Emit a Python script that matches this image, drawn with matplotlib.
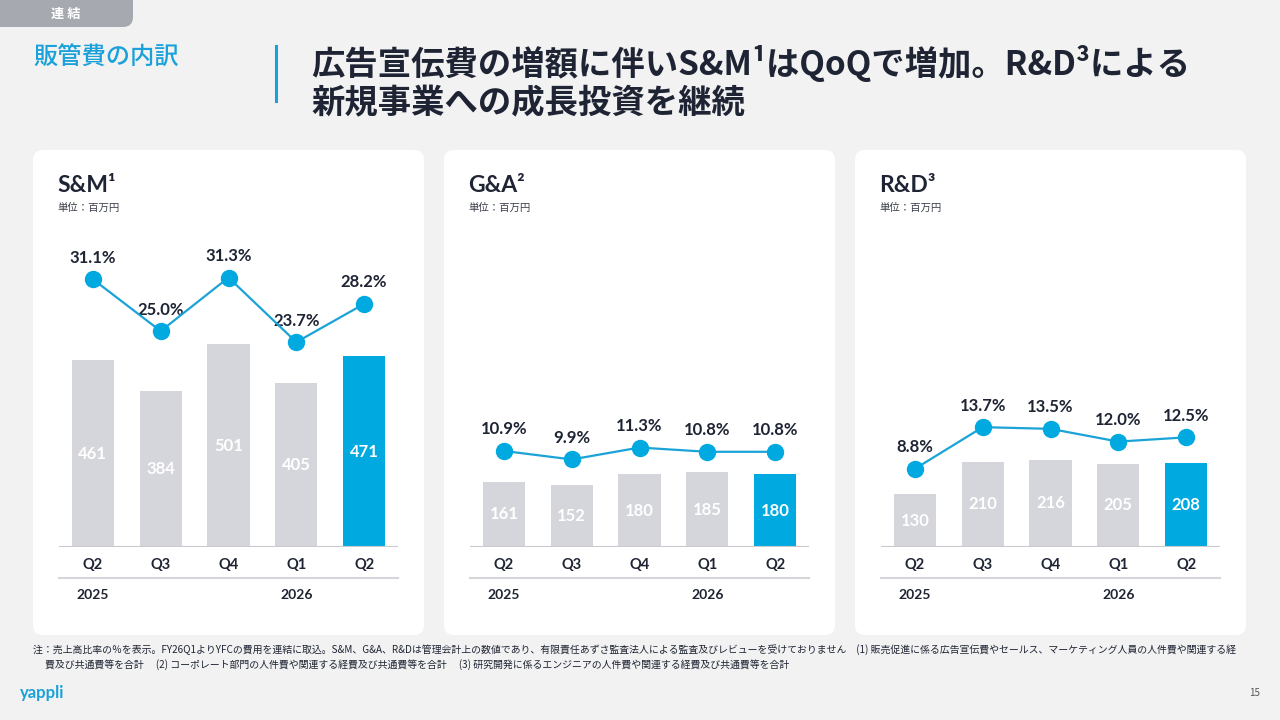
import numpy as np
import matplotlib
matplotlib.use("Agg")
import matplotlib.pyplot as plt
from matplotlib.patches import FancyBboxPatch
from matplotlib.lines import Line2D

plt.rcParams['font.family'] = ['Noto Sans CJK JP', 'DejaVu Sans']

# data
quarters = ['Q2', 'Q3', 'Q4', 'Q1', 'Q2']
year_labels = ['2025', '2026']
year_pos = [0, 3]

sm_values = [461, 384, 501, 405, 471]
ga_values = [161, 152, 180, 185, 180]
rd_values = [130, 210, 216, 205, 208]

sm_ratio = [31.1, 25.0, 31.3, 23.7, 28.2]
ga_ratio = [10.9, 9.9, 11.3, 10.8, 10.8]
rd_ratio = [8.8, 13.7, 13.5, 12.0, 12.5]

panel_titles = ['S&M¹', 'G&A²', 'R&D³']

# colours
BG = '#F2F2F2'
GREY = '#D5D6DB'
BLUE = '#00A9E0'
LINE = '#1BA3D8'
DARK = '#1E2433'

W, H = 1280, 720
fig = plt.figure(figsize=(12.8, 7.2), dpi=100, facecolor=BG)


def px(x, y):
    # pixel (from top-left) -> inches for dpi_scale_trans
    return x / 100.0, (H - y) / 100.0


def rbox(x0, y0, x1, y1, color, r=0.1):
    a, b = px(x0, y1)
    p = FancyBboxPatch((a, b), (x1 - x0) / 100.0, (y1 - y0) / 100.0,
                       boxstyle="round,pad=0,rounding_size=%s" % r,
                       transform=fig.dpi_scale_trans, facecolor=color,
                       edgecolor='none', zorder=0)
    fig.add_artist(p)


# header
rbox(-20, -20, 133, 27, '#A7A9B0', r=0.1)
fig.text(66 / W, 1 - 14 / H, '連 結', color='white', fontsize=9.5,
         fontweight='bold', ha='center', va='center')
fig.text(33 / W, 1 - 58 / H, '販管費の内訳', color='#1BA1D9', fontsize=17.5,
         fontweight='medium', ha='left', va='center')
fig.add_artist(Line2D([276 / W, 276 / W], [1 - 46 / H, 1 - 101 / H],
                      color='#1BA1D9', lw=2.2))
fig.text(311 / W, 1 - 63 / H, '広告宣伝費の増額に伴いS&M¹はQoQで増加。R&D³による',
         color=DARK, fontsize=24, fontweight='bold', ha='left', va='center')
fig.text(311 / W, 1 - 104 / H, '新規事業への成長投資を継続',
         color=DARK, fontsize=24, fontweight='bold', ha='left', va='center')

values_all = [sm_values, ga_values, rd_values]
ratio_all = [sm_ratio, ga_ratio, rd_ratio]

base_y = 547
top_y = 230
ax_h = base_y - top_y
bar_scale = 0.405
pct_scale = 8.5
x = np.arange(len(quarters))

for i in range(3):
    off = 411 * i
    rbox(33 + off, 150, 424 + off, 635, 'white', r=0.1)

    fig.text((57 + off) / W, 1 - 186 / H, panel_titles[i], color=DARK,
             fontsize=16.5, fontweight='bold', family=['Lato', 'DejaVu Sans'],
             ha='left', va='center')
    fig.text((57 + off) / W, 1 - 208 / H, '単位：百万円', color='#3A3F4B',
             fontsize=7.5, ha='left', va='center')

    ax = fig.add_axes([(59 + off) / W, (H - base_y) / H, 339 / W, ax_h / H])
    ax.set_facecolor('none')
    vals = values_all[i]
    colors = [GREY] * 4 + [BLUE]
    ax.bar(x, vals, width=0.62, color=colors, zorder=2)
    ax.set_xlim(-0.5, 4.5)
    ax.set_ylim(0, ax_h / bar_scale)
    for s in ax.spines.values():
        s.set_visible(False)
    ax.axhline(0, color='#C9CACE', lw=1.5, zorder=3)
    ax.set_yticks([])
    ax.set_xticks(x)
    ax.set_xticklabels(quarters, fontsize=10.5, fontweight='bold', color=DARK,
                       family=['Lato', 'DejaVu Sans'])
    ax.tick_params(axis='x', length=0, pad=8)
    for xi, v in zip(x, vals):
        ax.text(xi, v / 2.0, str(v), color='white', fontsize=12,
                fontweight='bold', family=['Lato', 'DejaVu Sans'],
                ha='center', va='center', zorder=4)
    ax.add_line(Line2D([0, 1], [-31 / ax_h, -31 / ax_h], transform=ax.transAxes,
                       color='#D5D6DB', lw=1.5, clip_on=False))
    for yp, yl in zip(year_pos, year_labels):
        ax.text(yp, -48 / ax_h, yl, transform=ax.get_xaxis_transform(),
                color=DARK, fontsize=10, fontweight='bold',
                family=['Lato', 'DejaVu Sans'], ha='center', va='center')

    ax2 = ax.twinx()
    ax2.set_facecolor('none')
    ax2.set_ylim(-0.4, -0.4 + ax_h / pct_scale)
    for s in ax2.spines.values():
        s.set_visible(False)
    ax2.set_yticks([])
    r = ratio_all[i]
    ax2.plot(x, r, color=LINE, lw=1.6, marker='o', markersize=11.5,
             markerfacecolor=BLUE, markeredgecolor=BLUE, zorder=5)
    for xi, v in zip(x, r):
        ax2.annotate('%.1f%%' % v, (xi, v), xytext=(0, 15.5),
                     textcoords='offset points', ha='center', va='center',
                     fontsize=12, fontweight='bold', color=DARK,
                     family=['Lato', 'DejaVu Sans'])

# footnotes
fig.text(33 / W, 1 - 650 / H,
         '注：売上高比率の％を表示。FY26Q1よりYFCの費用を連結に取込。S&M、G&A、R&Dは管理会計上の数値であり、有限責任あずさ監査法人による監査及びレビューを受けておりません　(1) 販売促進に係る広告宣伝費やセールス、マーケティング人員の人件費や関連する経',
         color=DARK, fontsize=7.15, ha='left', va='center')
fig.text(45 / W, 1 - 665 / H,
         '費及び共通費等を合計　 (2) コーポレート部門の人件費や関連する経費及び共通費等を合計　 (3) 研究開発に係るエンジニアの人件費や関連する経費及び共通費等を合計',
         color=DARK, fontsize=7.15, ha='left', va='center')

fig.text(20 / W, 1 - 693 / H, 'yappli', color='#1BA1D9', fontsize=12,
         fontweight='bold', family=['Lato', 'DejaVu Sans'], ha='left', va='center')
fig.text(1255 / W, 1 - 693 / H, '15', color='#555555', fontsize=7,
         ha='center', va='center')

fig.savefig('out.png', dpi=100, facecolor=BG)
